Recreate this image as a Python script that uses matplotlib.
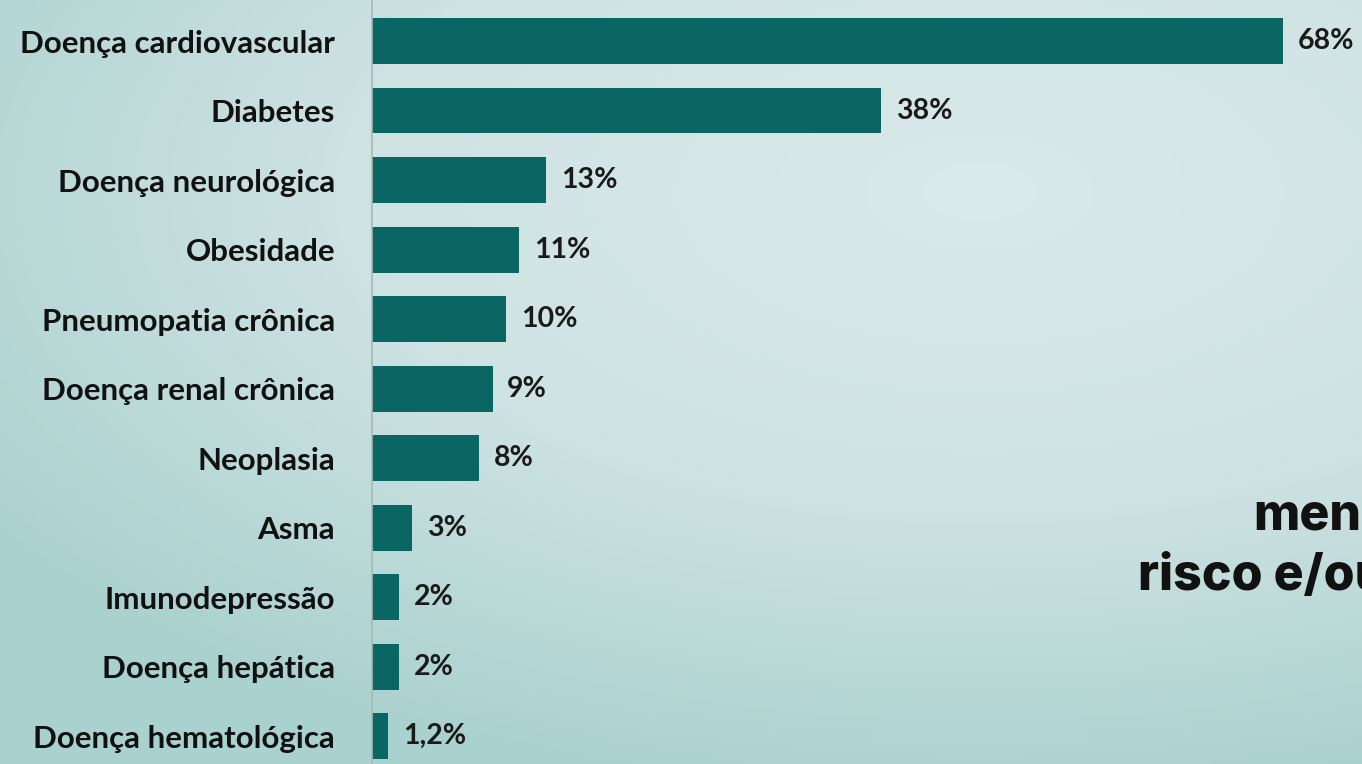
import numpy as np
import matplotlib.pyplot as plt
from matplotlib.colors import LinearSegmentedColormap

# Dados
categorias = ['Doença cardiovascular', 'Diabetes', 'Doença neurológica', 'Obesidade',
              'Pneumopatia crônica', 'Doença renal crônica', 'Neoplasia', 'Asma',
              'Imunodepressão', 'Doença hepática', 'Doença hematológica']
valores = [68, 38, 13, 11, 10, 9, 8, 3, 2, 2, 1.2]
rotulos = ['68%', '38%', '13%', '11%', '10%', '9%', '8%', '3%', '2%', '2%', '1,2%']

fig = plt.figure(figsize=(13.62, 7.64), dpi=100)

# Fundo em degradê
bg = fig.add_axes([0, 0, 1, 1], zorder=0)
yy, xx = np.mgrid[0:1:200j, 0:1:360j]
dist = np.sqrt(((xx - 0.72) / 1.0) ** 2 + ((yy - 0.25) / 0.9) ** 2)
cmap = LinearSegmentedColormap.from_list('bg', ['#dae9ea', '#cfe3e3', '#a9d1ce'])
bg.imshow(dist, cmap=cmap, aspect='auto', extent=[0, 1, 1, 0], vmin=0, vmax=0.9)
bg.axis('off')

ax = fig.add_axes([372 / 1362, 0, 1 - 372 / 1362, 1], zorder=1)
ax.patch.set_alpha(0)
y = np.arange(len(categorias))
ax.barh(y, valores, height=0.66, color='#0a6662')
ax.set_ylim(10.4, -0.59)
ax.set_xlim(0, (1362 - 372) / 13.4)

for yi, v, r in zip(y, valores, rotulos):
    ax.text(v + 1.1, yi, r, va='center', ha='left', fontsize=20.5,
            fontweight='bold', family='Lato', color='#1a1a1a')

ax.set_yticks(y)
ax.set_yticklabels(categorias, fontsize=22.5, fontweight='bold', family='Lato', color='#111111')
ax.tick_params(axis='y', length=0, pad=26.5)
ax.set_xticks([])
for s in ['top', 'right', 'bottom']:
    ax.spines[s].set_visible(False)
ax.spines['left'].set_color('#a8b8b8')
ax.spines['left'].set_linewidth(1.2)

# Texto cortado à direita (como no original)
fig.text(1253 / 1362, 1 - 530 / 764, 'men', fontsize=36, fontweight='heavy',
         family='Inter', color='#111111', ha='left', va='baseline')
fig.text(1138 / 1362, 1 - 590 / 764, 'risco e/ou', fontsize=36, fontweight='heavy',
         family='Inter', color='#111111', ha='left', va='baseline')

fig.savefig('out.png', dpi=100)
